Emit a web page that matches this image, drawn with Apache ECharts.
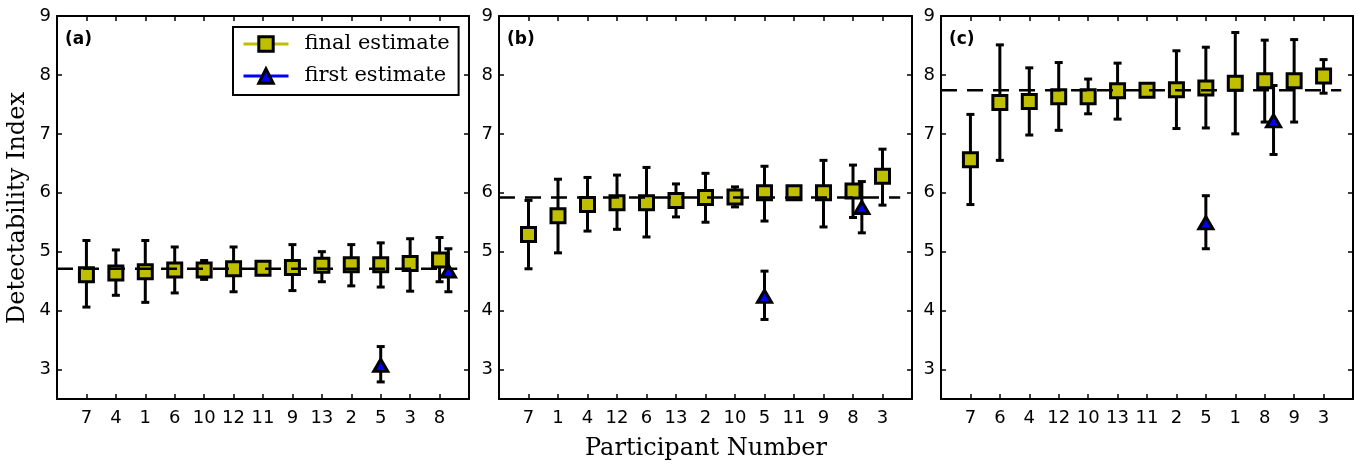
<!DOCTYPE html>
<html>
<head>
<meta charset="utf-8">
<style>
html, body { margin: 0; padding: 0; background: #fff; }
#main { width: 1358px; height: 466px; }
</style>
</head>
<body>
<div id="main"></div>
<script src="https://cdn.jsdelivr.net/npm/echarts@6/dist/echarts.min.js"></script>
<script>
// panel (a)
var orderA = [7, 4, 1, 6, 10, 12, 11, 9, 13, 2, 5, 3, 8];
var finalA = [4.61, 4.64, 4.66, 4.69, 4.69, 4.71, 4.72, 4.73, 4.77, 4.78, 4.78, 4.80, 4.86];
var finalLoA = [4.06, 4.26, 4.14, 4.30, 4.53, 4.32, 4.69, 4.34, 4.49, 4.42, 4.40, 4.33, 4.49];
var finalHiA = [5.19, 5.03, 5.19, 5.08, 4.85, 5.08, 4.76, 5.12, 5.00, 5.12, 5.15, 5.22, 5.24];
var firstXA = [10, 12.3];
var firstA = [3.07, 4.67];
var firstLoA = [2.79, 4.32];
var firstHiA = [3.39, 5.05];
var meanA = 4.71;

// panel (b)
var orderB = [7, 1, 4, 12, 6, 13, 2, 10, 5, 11, 9, 8, 3];
var finalB = [5.29, 5.61, 5.80, 5.83, 5.83, 5.87, 5.92, 5.93, 6.00, 6.00, 6.00, 6.03, 6.28];
var finalLoB = [4.71, 4.98, 5.35, 5.38, 5.25, 5.59, 5.50, 5.76, 5.52, 5.93, 5.42, 5.58, 5.79];
var finalHiB = [5.87, 6.23, 6.26, 6.30, 6.43, 6.15, 6.33, 6.10, 6.45, 6.04, 6.55, 6.47, 6.74];
var firstXB = [8, 11.3];
var firstB = [4.24, 5.75];
var firstLoB = [3.85, 5.32];
var firstHiB = [4.67, 6.19];
var meanB = 5.92;

// panel (c)
var orderC = [7, 6, 4, 12, 10, 13, 11, 2, 5, 1, 8, 9, 3];
var finalC = [6.56, 7.53, 7.55, 7.63, 7.63, 7.73, 7.74, 7.75, 7.78, 7.86, 7.90, 7.90, 7.98];
var finalLoC = [5.80, 6.55, 6.98, 7.06, 7.34, 7.25, 7.72, 7.09, 7.10, 7.00, 7.20, 7.20, 7.69];
var finalHiC = [7.33, 8.51, 8.12, 8.21, 7.93, 8.20, 7.77, 8.41, 8.47, 8.72, 8.59, 8.60, 8.26];
var firstXC = [8, 10.3];
var firstC = [5.49, 7.22];
var firstLoC = [5.05, 6.65];
var firstHiC = [5.95, 7.82];
var meanC = 7.74;

var meanSpan = [-1, 12.6];
var panelLabels = ['(a)', '(b)', '(c)'];

var panels = [
    {order: orderA, fin: finalA, lo: finalLoA, hi: finalHiA, fx: firstXA, fy: firstA, flo: firstLoA, fhi: firstHiA, mean: meanA},
    {order: orderB, fin: finalB, lo: finalLoB, hi: finalHiB, fx: firstXB, fy: firstB, flo: firstLoB, fhi: firstHiB, mean: meanB},
    {order: orderC, fin: finalC, lo: finalLoC, hi: finalHiC, fx: firstXC, fy: firstC, flo: firstLoC, fhi: firstHiC, mean: meanC}
];

var YELLOW = '#bfbf00';
var BLUE = '#0000ff';
var SANS = '"DejaVu Sans", sans-serif';
var SERIF = '"DejaVu Serif", serif';

var gridLefts = [57, 499, 941];
var gridWidths = [412, 413, 412];

function renderErr(params, api) {
    var x = api.value(0);
    var lo = api.coord([x, api.value(1)]);
    var hi = api.coord([x, api.value(2)]);
    var cw = 4;
    var st = {stroke: '#000', lineWidth: 3};
    return {
        type: 'group',
        children: [
            {type: 'line', shape: {x1: lo[0], y1: lo[1], x2: hi[0], y2: hi[1]}, style: st},
            {type: 'line', shape: {x1: lo[0] - cw, y1: lo[1], x2: lo[0] + cw, y2: lo[1]}, style: st},
            {type: 'line', shape: {x1: hi[0] - cw, y1: hi[1], x2: hi[0] + cw, y2: hi[1]}, style: st}
        ]
    };
}

var grids = [], xAxes = [], yAxes = [], series = [], graphics = [];

panels.forEach(function (p, i) {
    grids.push({left: gridLefts[i], top: 16, width: gridWidths[i], height: 383, show: false});
    var order = p.order;
    var axisLine = {show: true, onZero: false, lineStyle: {color: '#000', width: 2}};
    var tick = {show: true, inside: true, length: 5, lineStyle: {color: '#000', width: 1.5}};
    xAxes.push({
        type: 'value', gridIndex: i, position: 'bottom', min: -1, max: 13, interval: 1,
        axisLine: axisLine, axisTick: tick, splitLine: {show: false},
        axisLabel: {
            margin: 10, color: '#000', fontFamily: SANS, fontSize: 18,
            formatter: function (v) {
                return (v >= 0 && v < order.length && Math.round(v) === v) ? String(order[v]) : '';
            }
        }
    });
    xAxes.push({
        type: 'value', gridIndex: i, position: 'top', min: -1, max: 13, interval: 1,
        axisLine: axisLine, axisTick: tick, splitLine: {show: false}, axisLabel: {show: false}
    });
    yAxes.push({
        type: 'value', gridIndex: i, position: 'left', min: 2.5, max: 9, minInterval: 1, maxInterval: 1,
        axisLine: axisLine, axisTick: tick, splitLine: {show: false},
        axisLabel: {
            margin: 6, color: '#000', fontFamily: SANS, fontSize: 18,
            formatter: function (v) { return Math.round(v) === v ? String(v) : ''; }
        }
    });
    yAxes.push({
        type: 'value', gridIndex: i, position: 'right', min: 2.5, max: 9, minInterval: 1, maxInterval: 1,
        axisLine: axisLine, axisTick: tick, splitLine: {show: false}, axisLabel: {show: false}
    });

    var xi = i * 2, yi = i * 2;
    var finErr = p.fin.map(function (v, k) { return [k, p.lo[k], p.hi[k]]; });
    var firstErr = p.fy.map(function (v, k) { return [p.fx[k], p.flo[k], p.fhi[k]]; });
    series.push({
        type: 'custom', xAxisIndex: xi, yAxisIndex: yi, renderItem: renderErr,
        encode: {x: 0, y: [1, 2]}, data: finErr, z: 2, silent: true
    });
    series.push({
        type: 'custom', xAxisIndex: xi, yAxisIndex: yi, renderItem: renderErr,
        encode: {x: 0, y: [1, 2]}, data: firstErr, z: 2, silent: true
    });
    series.push({
        type: 'scatter', xAxisIndex: xi, yAxisIndex: yi, symbol: 'rect', symbolSize: 14,
        itemStyle: {color: YELLOW, borderColor: '#000', borderWidth: 3, opacity: 1},
        data: p.fin.map(function (v, k) { return [k, v]; }), z: 3, silent: true
    });
    series.push({
        type: 'scatter', xAxisIndex: xi, yAxisIndex: yi, symbol: 'triangle', symbolSize: [14, 12],
        itemStyle: {color: BLUE, borderColor: '#000', borderWidth: 3, opacity: 1},
        data: p.fy.map(function (v, k) { return [p.fx[k], v]; }), z: 4, silent: true
    });
    series.push({
        type: 'line', xAxisIndex: xi, yAxisIndex: yi, symbol: 'none', silent: true, z: 5,
        lineStyle: {color: '#000', width: 2.5, type: [16, 10]},
        data: [[meanSpan[0], p.mean], [meanSpan[1], p.mean]]
    });

    graphics.push({
        type: 'text', x: gridLefts[i] + 8, y: 40,
        style: {text: panelLabels[i], font: 'bold 17px ' + SANS, fill: '#000', align: 'left', verticalAlign: 'middle'}
    });
});

// legend-only series
series.push({
    name: 'final estimate', type: 'line', xAxisIndex: 0, yAxisIndex: 0, data: [],
    symbol: 'rect', symbolSize: 14,
    itemStyle: {color: YELLOW, borderColor: '#000', borderWidth: 3},
    lineStyle: {color: YELLOW, width: 3}
});
series.push({
    name: 'first estimate', type: 'line', xAxisIndex: 0, yAxisIndex: 0, data: [],
    symbol: 'triangle', symbolSize: 14,
    itemStyle: {color: BLUE, borderColor: '#000', borderWidth: 3},
    lineStyle: {color: BLUE, width: 3}
});

graphics.push({
    type: 'text', x: 18, y: 208, rotation: Math.PI / 2,
    style: {text: 'Detectability Index', font: '24px ' + SERIF, fill: '#000', align: 'center', verticalAlign: 'middle'}
});
graphics.push({
    type: 'text', x: 706, y: 449,
    style: {text: 'Participant Number', font: '24px ' + SERIF, fill: '#000', align: 'center', verticalAlign: 'middle'}
});

var chart = echarts.init(document.getElementById('main'), null, {renderer: 'canvas'});
chart.setOption({
    animation: false,
    backgroundColor: '#fff',
    grid: grids,
    xAxis: xAxes,
    yAxis: yAxes,
    legend: {
        data: ['final estimate', 'first estimate'],
        orient: 'vertical', left: 233, top: 27,
        itemWidth: 45, itemHeight: 18, itemGap: 10,
        padding: [6, 9, 8, 9],
        backgroundColor: '#fff', borderColor: '#000', borderWidth: 2,
        lineStyle: {width: 3},
        itemStyle: {borderWidth: 3, borderColor: '#000'},
        textStyle: {fontFamily: SERIF, fontSize: 21, color: '#000', lineHeight: 22, padding: [0, 0, 0, 11]},
        selectedMode: false
    },
    graphic: graphics,
    series: series
});
</script>
</body>
</html>
